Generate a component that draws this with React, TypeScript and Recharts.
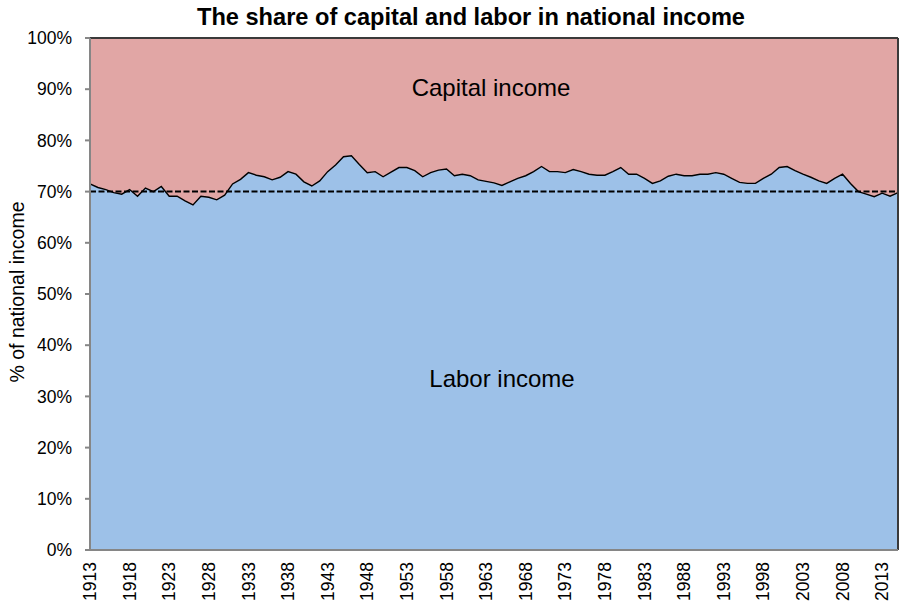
import React from 'react';
import {
  AreaChart,
  Area,
  XAxis,
  YAxis,
  CartesianGrid,
  ReferenceLine,
} from 'recharts';

// years on the category axis
const years = [
  '1913', '1914', '1915', '1916', '1917', '1918', '1919', '1920', '1921', '1922',
  '1923', '1924', '1925', '1926', '1927', '1928', '1929', '1930', '1931', '1932',
  '1933', '1934', '1935', '1936', '1937', '1938', '1939', '1940', '1941', '1942',
  '1943', '1944', '1945', '1946', '1947', '1948', '1949', '1950', '1951', '1952',
  '1953', '1954', '1955', '1956', '1957', '1958', '1959', '1960', '1961', '1962',
  '1963', '1964', '1965', '1966', '1967', '1968', '1969', '1970', '1971', '1972',
  '1973', '1974', '1975', '1976', '1977', '1978', '1979', '1980', '1981', '1982',
  '1983', '1984', '1985', '1986', '1987', '1988', '1989', '1990', '1991', '1992',
  '1993', '1994', '1995', '1996', '1997', '1998', '1999', '2000', '2001', '2002',
  '2003', '2004', '2005', '2006', '2007', '2008', '2009', '2010', '2011', '2012',
  '2013', '2014', '2015',
];

// labor share of national income (%), capital is the rest up to 100%
const laborShare = [
  71.5, 70.8, 70.4, 69.8, 69.5, 70.4, 69.1, 70.7, 70.0, 71.0,
  69.1, 69.1, 68.2, 67.4, 69.1, 68.9, 68.4, 69.3, 71.5, 72.4,
  73.7, 73.2, 72.9, 72.3, 72.8, 73.9, 73.4, 71.9, 71.1, 72.1,
  73.9, 75.2, 76.8, 77.0, 75.3, 73.7, 73.9, 72.9, 73.8, 74.7,
  74.7, 74.1, 72.9, 73.7, 74.2, 74.4, 73.1, 73.4, 73.1, 72.3,
  72.0, 71.7, 71.2, 71.9, 72.6, 73.1, 73.9, 74.9, 73.9, 73.9,
  73.7, 74.3, 73.9, 73.4, 73.2, 73.2, 73.9, 74.7, 73.4, 73.4,
  72.6, 71.6, 72.1, 73.0, 73.4, 73.1, 73.1, 73.4, 73.4, 73.7,
  73.4, 72.6, 71.8, 71.6, 71.6, 72.6, 73.4, 74.7, 74.9, 74.1,
  73.4, 72.8, 72.1, 71.6, 72.6, 73.4, 71.6, 70.0, 69.5, 69.0,
  69.7, 69.1, 69.8,
];

const yTicks = [0, 10, 20, 30, 40, 50, 60, 70, 80, 90, 100];
const avgShare = 70;

const data = years.map((year, i) => ({ year, labor: laborShare[i] }));

const FONT = '"Liberation Sans", Arial, sans-serif';

const YearTick = ({ x, y, payload }: any) => (
  <text
    x={x}
    y={y}
    transform={`rotate(-90, ${x}, ${y})`}
    textAnchor="end"
    dy="0.35em"
    fontSize={17.5}
    fontFamily={FONT}
    fill="#000"
  >
    {payload.value}
  </text>
);

export default function App() {
  return (
    <div style={{ position: 'absolute', left: 0, top: 0, width: 901, height: 605, background: '#fff' }}>
      <AreaChart
        width={901}
        height={605}
        data={data}
        margin={{ top: 38, right: 3, bottom: 0, left: 0 }}
        style={{ fontFamily: FONT }}
      >
        <CartesianGrid horizontal={false} vertical={false} fill="#E1A6A5" fillOpacity={1} />
        <XAxis
          dataKey="year"
          interval={4}
          tickLine={false}
          tickSize={0}
          tickMargin={12}
          height={55}
          axisLine={{ stroke: '#868686', strokeWidth: 2 }}
          tick={<YearTick />}
        />
        <YAxis
          domain={[0, 100]}
          ticks={yTicks}
          tickFormatter={(v) => `${v}%`}
          width={90}
          tickSize={5}
          tickMargin={13}
          axisLine={{ stroke: '#868686', strokeWidth: 2 }}
          tickLine={{ stroke: '#868686', strokeWidth: 2 }}
          tick={{ fill: '#000', fontSize: 17.5, fontFamily: FONT }}
        />
        <Area
          type="linear"
          dataKey="labor"
          stroke="#000"
          strokeWidth={1.4}
          fill="#9DC1E8"
          fillOpacity={1}
          isAnimationActive={false}
          dot={false}
          activeDot={false}
        />
        <ReferenceLine y={avgShare} stroke="#000" strokeWidth={2} strokeDasharray="6 2.5" />
        <ReferenceLine y={100} stroke="#3a3a3a" strokeWidth={2} />
        <ReferenceLine x="2015" stroke="#3a3a3a" strokeWidth={2} />
      </AreaChart>
      <svg
        width={901}
        height={605}
        style={{ position: 'absolute', left: 0, top: 0, pointerEvents: 'none' }}
        fontFamily={FONT}
      >
        <text x={471} y={25} textAnchor="middle" fontSize={23.6} fontWeight="bold" fill="#000">
          The share of capital and labor in national income
        </text>
        <text x={491} y={96} textAnchor="middle" fontSize={24} fill="#000">
          Capital income
        </text>
        <text x={502} y={387} textAnchor="middle" fontSize={24} fill="#000">
          Labor income
        </text>
        <text
          x={24}
          y={292}
          transform="rotate(-90, 24, 292)"
          textAnchor="middle"
          fontSize={19.5}
          fill="#000"
        >
          % of national income
        </text>
      </svg>
    </div>
  );
}
